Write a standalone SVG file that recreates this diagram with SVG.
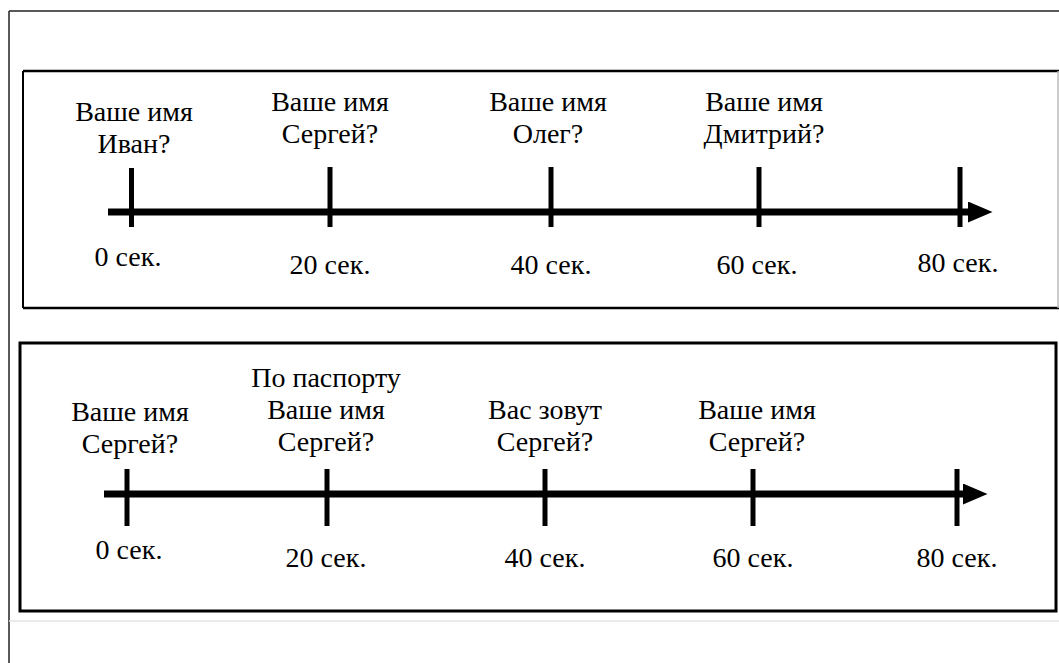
<svg xmlns="http://www.w3.org/2000/svg" width="1059" height="663" viewBox="0 0 1059 663">
<style>
text{font-family:'Liberation Serif','Times New Roman',Times,serif;font-size:28px;fill:#000;text-anchor:middle}
.ax{stroke:#000;stroke-width:7;fill:none}
.tk{stroke:#000;stroke-width:5}
</style>
<defs>
<marker id="ah" markerWidth="3.5" markerHeight="3" refX="0" refY="1.5" orient="auto" markerUnits="strokeWidth" viewBox="0 0 3.5 3">
<path d="M0,0 L3.5,1.5 L0,3 z" fill="#000"/>
</marker>
</defs>
<rect width="1059" height="663" fill="#fff"/>
<g id="frame">
<line x1="9" y1="11" x2="1059" y2="11" stroke="#222" stroke-width="1.5"/>
<line x1="9" y1="11" x2="9" y2="663" stroke="#222" stroke-width="1.5"/>
<line x1="9" y1="621" x2="1059" y2="621" stroke="#e4e4e4" stroke-width="1.5"/>
</g>
<g id="box-top">
<line x1="23" y1="71" x2="1059" y2="71" stroke="#000" stroke-width="2.5"/>
<line x1="23" y1="308" x2="1059" y2="308" stroke="#000" stroke-width="2.5"/>
<line x1="23" y1="71" x2="23" y2="308" stroke="#000" stroke-width="2"/>
<line x1="1058" y1="71" x2="1058" y2="308" stroke="#bbb" stroke-width="1.5"/>
</g>
<g id="box-bottom">
<rect x="20" y="343" width="1036" height="268" fill="none" stroke="#000" stroke-width="3"/>
</g>
<g id="connectors">
<line class="ax" x1="108" y1="212" x2="968" y2="212" marker-end="url(#ah)"/>
<line class="tk" x1="131.5" y1="168" x2="131.5" y2="227"/>
<line class="tk" x1="330" y1="167" x2="330" y2="227"/>
<line class="tk" x1="551" y1="167" x2="551" y2="227"/>
<line class="tk" x1="759" y1="167" x2="759" y2="227"/>
<line class="tk" x1="960" y1="167" x2="960" y2="227"/>
<line class="ax" x1="104" y1="494" x2="963" y2="494" marker-end="url(#ah)"/>
<line class="tk" x1="127" y1="469" x2="127" y2="526"/>
<line class="tk" x1="327" y1="469" x2="327" y2="526"/>
<line class="tk" x1="545" y1="469" x2="545" y2="526"/>
<line class="tk" x1="753" y1="469" x2="753" y2="526"/>
<line class="tk" x1="957" y1="469" x2="957" y2="526"/>
</g>
<g id="q1-top"><text x="134" y="121">Ваше имя</text><text x="134" y="153">Иван?</text></g>
<g id="q2-top"><text x="330" y="111">Ваше имя</text><text x="330" y="143">Сергей?</text></g>
<g id="q3-top"><text x="548" y="111">Ваше имя</text><text x="548" y="143">Олег?</text></g>
<g id="q4-top"><text x="764" y="111">Ваше имя</text><text x="764" y="143">Дмитрий?</text></g>
<g id="time-top">
<text x="128" y="266">0 сек.</text>
<text x="330" y="274">20 сек.</text>
<text x="551" y="274">40 сек.</text>
<text x="757" y="274">60 сек.</text>
<text x="958" y="272">80 сек.</text>
</g>
<g id="q1-bottom"><text x="130" y="421">Ваше имя</text><text x="130" y="453">Сергей?</text></g>
<g id="q2-bottom"><text x="326" y="387">По паспорту</text><text x="326" y="419">Ваше имя</text><text x="326" y="451">Сергей?</text></g>
<g id="q3-bottom"><text x="545" y="419">Вас зовут</text><text x="545" y="451">Сергей?</text></g>
<g id="q4-bottom"><text x="757" y="419">Ваше имя</text><text x="757" y="451">Сергей?</text></g>
<g id="time-bottom">
<text x="129" y="559">0 сек.</text>
<text x="326" y="567">20 сек.</text>
<text x="545" y="567">40 сек.</text>
<text x="753" y="567">60 сек.</text>
<text x="957" y="567">80 сек.</text>
</g>
</svg>
